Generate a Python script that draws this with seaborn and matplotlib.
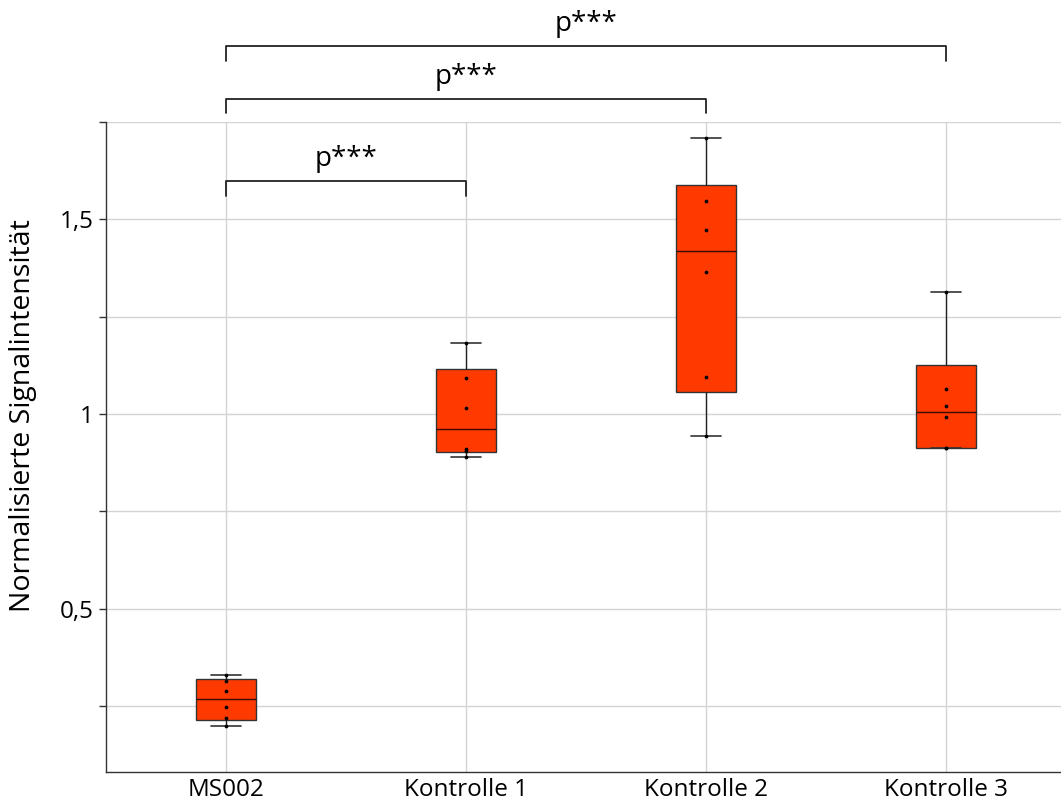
import numpy as np
import pandas as pd
import matplotlib
matplotlib.use("Agg")
import matplotlib.pyplot as plt
from matplotlib import cbook
from matplotlib.ticker import FixedLocator, FuncFormatter
import seaborn as sns

# ========== Data ==========

groups = ["MS002", "Kontrolle 1", "Kontrolle 2", "Kontrolle 3"]
ms002 = [0.198, 0.218, 0.246, 0.289, 0.314, 0.329]
kontrolle_1 = [0.889, 0.905, 0.909, 1.015, 1.092, 1.183]
kontrolle_2 = [0.943, 1.094, 1.365, 1.473, 1.548, 1.710]
kontrolle_3 = [0.912, 0.912, 0.991, 1.021, 1.063, 1.314]
values = [ms002, kontrolle_1, kontrolle_2, kontrolle_3]

# significance brackets: (first group, second group, label)
comparisons = [(0, 1, "p***"), (0, 2, "p***"), (0, 3, "p***")]
bracket_levels = [1.599, 1.810, 1.946]

df = pd.DataFrame({
    "Gruppe": np.repeat(groups, [len(v) for v in values]),
    "Wert": np.concatenate(values),
})

# ========== Plot ==========

sns.set_style("white")
plt.rcParams["font.family"] = ["Open Sans", "DejaVu Sans"]
plt.rcParams["text.color"] = "black"
plt.rcParams["axes.labelcolor"] = "black"

fig = plt.figure(figsize=(10.61, 8.05), dpi=100)
ax = fig.add_axes([106 / 1061, 33 / 805, 960 / 1061, 650 / 805])

box_color = "#FF3A00"
edge_color = "#333333"

# box statistics with (n+1)p quantiles, whiskers at min / max
stats = []
for v in values:
    s = cbook.boxplot_stats(np.array(v), whis=(0, 100))[0]
    s["q1"], s["med"], s["q3"] = np.percentile(v, [25, 50, 75], method="weibull")
    stats.append(s)

ax.bxp(stats, positions=range(len(groups)), widths=0.25, patch_artist=True,
       showfliers=False, manage_ticks=False,
       boxprops=dict(facecolor=box_color, edgecolor=edge_color, linewidth=1.0),
       medianprops=dict(color="#3a0a00", linewidth=1.0),
       whiskerprops=dict(color="#222222", linewidth=1.0),
       capprops=dict(color="#333333", linewidth=1.2))

sns.stripplot(data=df, x="Gruppe", y="Wert", order=groups, jitter=False,
              color="black", size=2.7, zorder=4, ax=ax)

# axes styling
ax.set_xlim(-0.5, 3.5)
ax.set_ylim(0.08, 1.75)
ax.yaxis.set_major_locator(FixedLocator([0.5, 1.0, 1.5]))
ax.yaxis.set_minor_locator(FixedLocator([0.25, 0.75, 1.25, 1.75]))
ax.yaxis.set_major_formatter(FuncFormatter(lambda v, p: f"{v:g}".replace(".", ",")))
ax.grid(True, which="both", color="#d4d4d4", linewidth=1.0)
ax.set_axisbelow(True)
for side in ["top", "right"]:
    ax.spines[side].set_visible(False)
for side in ["left", "bottom"]:
    ax.spines[side].set_color("#333333")
    ax.spines[side].set_linewidth(1.0)
ax.tick_params(axis="y", which="both", direction="out", length=5, width=1,
               color="#333333", labelcolor="black", labelsize=17.5, pad=4, left=True)
ax.tick_params(axis="x", length=0, labelcolor="black", labelsize=17.5, pad=4)
ax.set_xlabel("")
ax.set_ylabel("Normalisierte Signalintensität", fontsize=20.5)
ax.yaxis.set_label_coords(-0.072, 0.548)

# significance brackets
for (i, j, label), level in zip(comparisons, bracket_levels):
    drop = 0.038
    ax.plot([i, i, j, j], [level - drop, level, level, level - drop],
            color="#222222", linewidth=1.3, clip_on=False)
    ax.text((i + j) / 2, level + 0.038, label, ha="center", va="baseline",
            fontsize=20, clip_on=False)

fig.savefig("out.png", dpi=100)
